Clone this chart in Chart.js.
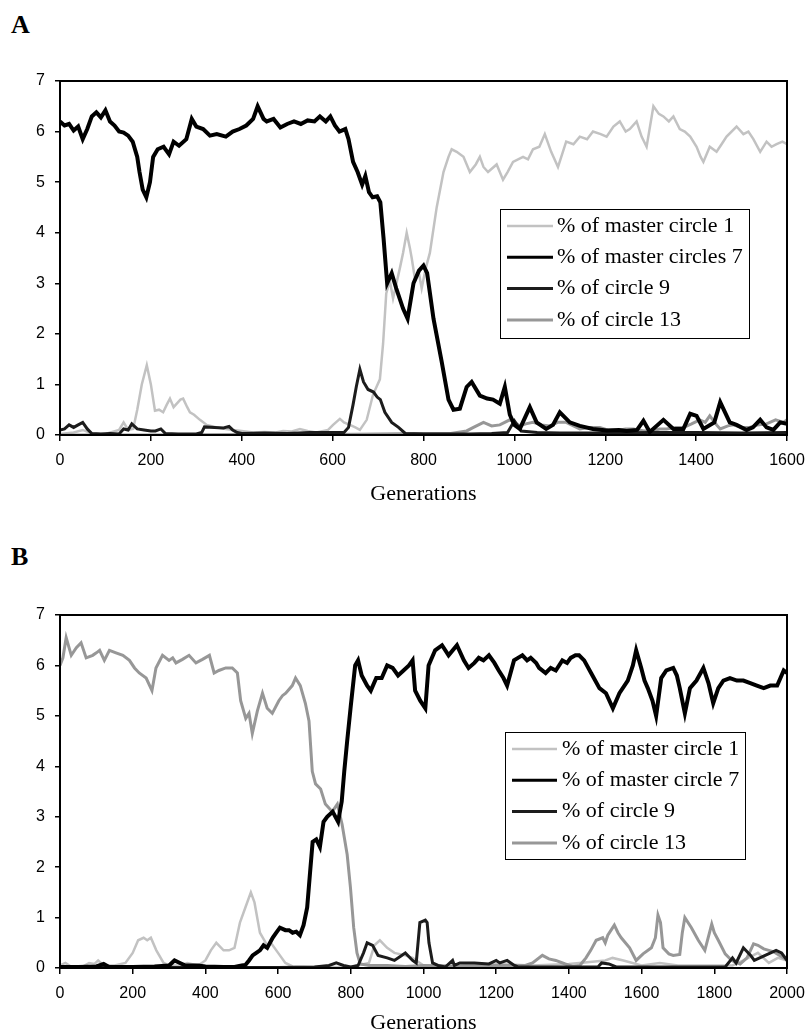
<!DOCTYPE html>
<html>
<head>
<meta charset="utf-8">
<script src="https://cdn.jsdelivr.net/npm/chart.js@4.4.0/dist/chart.umd.min.js"></script>
<style>
    html, body { margin: 0; padding: 0; background: #fff; }
    body { width: 809px; height: 1034px; overflow: hidden; position: relative; }
    canvas { position: absolute; left: 0; }
    .panel_label { position: absolute; left: 11px; font: bold 26px "Liberation Serif", "Times New Roman", serif; color: #000; line-height: 1; }
</style>
</head>
<body>
<div class="panel_label" style="top:12px">A</div>
<canvas id="chart_a" width="809" height="514" style="top:0"></canvas>
<div class="panel_label" style="top:544px">B</div>
<canvas id="chart_b" width="809" height="540" style="top:514px"></canvas>
<script>
// ---- panel A data (generations / percent) ----
const aMaster1Gen = [0,30,50,70,100,130,140,150,161,170,180,191,200,209,218,227,235,242,250,257,265,271,280,286,295,308,323,345,365,381,400,425,450,475,491,510,528,545,564,590,601,616,625,638,650,660,675,689,704,711,718,726,733,748,755,763,770,774,781,790,796,805,814,829,844,855,862,873,888,902,915,924,932,942,961,975,985,997,1019,1030,1041,1055,1067,1081,1096,1105,1114,1130,1144,1160,1173,1190,1203,1218,1232,1245,1254,1269,1280,1291,1306,1318,1328,1340,1350,1364,1375,1387,1401,1410,1416,1430,1445,1456,1467,1489,1504,1515,1526,1541,1555,1566,1577,1590,1600];
const aMaster1Val = [0.02,0.05,0.1,0.03,0.02,0.1,0.25,0.1,0.12,0.5,1.0,1.38,1.0,0.48,0.5,0.45,0.6,0.72,0.55,0.62,0.7,0.72,0.55,0.45,0.4,0.3,0.2,0.15,0.12,0.1,0.08,0.05,0.06,0.05,0.08,0.07,0.12,0.08,0.05,0.1,0.2,0.32,0.25,0.2,0.15,0.1,0.3,0.8,1.1,1.8,2.8,3.05,2.7,3.3,3.6,4.0,3.7,3.5,3.1,3.2,2.9,3.3,3.6,4.5,5.2,5.5,5.65,5.6,5.5,5.2,5.35,5.5,5.3,5.2,5.35,5.05,5.2,5.4,5.5,5.45,5.65,5.7,5.95,5.6,5.3,5.55,5.8,5.75,5.9,5.85,6.0,5.95,5.9,6.1,6.2,6.0,6.05,6.2,5.9,5.7,6.5,6.35,6.3,6.2,6.3,6.05,6.0,5.9,5.7,5.5,5.4,5.7,5.6,5.75,5.9,6.1,5.95,6.0,5.85,5.6,5.8,5.7,5.75,5.8,5.75];

const aMaster7Gen = [0,10,20,30,40,50,60,70,80,90,100,110,120,130,140,150,160,170,175,182,190,198,205,215,228,240,250,262,278,290,300,315,330,345,365,380,395,410,425,435,448,455,470,485,500,515,530,545,560,572,585,595,605,615,628,635,645,655,665,672,680,688,698,705,712,720,730,740,755,765,778,790,800,808,822,840,855,866,880,895,906,924,940,953,968,979,990,1000,1012,1034,1049,1070,1085,1100,1122,1144,1173,1203,1230,1247,1270,1284,1298,1328,1350,1372,1387,1401,1416,1440,1453,1474,1489,1511,1525,1541,1555,1570,1585,1600];
const aMaster7Val = [6.2,6.12,6.15,6.02,6.1,5.85,6.05,6.3,6.38,6.28,6.42,6.2,6.12,6.0,5.98,5.92,5.8,5.5,5.2,4.85,4.7,5.0,5.5,5.65,5.7,5.55,5.8,5.72,5.85,6.25,6.1,6.05,5.92,5.95,5.9,6.0,6.05,6.12,6.25,6.5,6.25,6.2,6.25,6.08,6.15,6.2,6.15,6.22,6.2,6.3,6.2,6.3,6.12,6.0,6.05,5.85,5.4,5.2,4.95,5.12,4.8,4.7,4.72,4.6,3.9,3.0,3.2,2.9,2.5,2.3,3.0,3.25,3.35,3.2,2.3,1.45,0.7,0.5,0.52,0.95,1.05,0.78,0.72,0.7,0.62,0.95,0.4,0.2,0.12,0.55,0.25,0.12,0.2,0.45,0.25,0.18,0.12,0.09,0.1,0.08,0.1,0.28,0.06,0.3,0.12,0.12,0.42,0.38,0.12,0.25,0.65,0.25,0.2,0.1,0.15,0.3,0.15,0.1,0.25,0.22];

const aCircle9Gen = [0,10,20,30,40,50,60,70,90,110,130,140,150,158,170,185,200,210,222,232,260,300,312,318,340,360,372,380,390,400,450,500,550,600,625,635,645,652,660,668,678,690,698,705,715,730,745,760,800,850,900,950,985,1000,1015,1050,1100,1200,1300,1400,1500,1600];
const aCircle9Val = [0.1,0.12,0.2,0.15,0.2,0.25,0.12,0.03,0.02,0.03,0.02,0.12,0.1,0.22,0.12,0.1,0.08,0.08,0.12,0.03,0.02,0.02,0.05,0.16,0.15,0.14,0.17,0.1,0.05,0.03,0.04,0.03,0.05,0.05,0.05,0.15,0.6,0.95,1.3,1.05,0.9,0.85,0.75,0.7,0.45,0.25,0.15,0.03,0.02,0.02,0.02,0.03,0.05,0.28,0.08,0.05,0.04,0.04,0.05,0.05,0.04,0.05];

const aCircle13Gen = [0,200,400,600,700,800,860,895,910,932,950,968,990,1012,1025,1041,1060,1078,1095,1114,1130,1144,1165,1188,1205,1225,1245,1262,1285,1306,1320,1335,1355,1372,1390,1408,1420,1430,1445,1453,1470,1482,1500,1518,1535,1555,1575,1592,1600];
const aCircle13Val = [0,0,0.01,0.01,0.02,0.03,0.03,0.08,0.15,0.25,0.18,0.2,0.3,0.18,0.22,0.25,0.2,0.18,0.25,0.25,0.18,0.12,0.15,0.15,0.1,0.09,0.12,0.12,0.08,0.09,0.12,0.12,0.15,0.15,0.22,0.3,0.25,0.38,0.2,0.12,0.18,0.2,0.15,0.15,0.2,0.22,0.3,0.25,0.3];

// ---- panel B data ----
const bMaster1Gen = [0,15,30,60,80,95,105,120,150,180,200,215,230,240,250,265,285,300,330,350,380,400,415,430,450,465,480,495,510,525,535,550,570,580,600,620,640,700,800,850,865,880,900,920,950,970,1000,1100,1200,1300,1400,1500,1520,1550,1600,1650,1700,1800,1850,1880,1920,1950,1975,2000];
const bMaster1Val = [0.05,0.1,0.03,0.02,0.1,0.08,0.15,0.05,0.05,0.1,0.3,0.55,0.6,0.55,0.6,0.35,0.1,0.05,0.05,0.1,0.05,0.15,0.35,0.5,0.35,0.35,0.4,0.9,1.2,1.5,1.3,0.7,0.45,0.5,0.3,0.1,0.03,0.02,0.02,0.1,0.45,0.55,0.4,0.3,0.25,0.2,0.05,0.05,0.08,0.05,0.08,0.15,0.2,0.15,0.05,0.1,0.05,0.05,0.05,0.15,0.3,0.1,0.2,0.15];

const bMaster7Gen = [0,50,100,120,135,200,260,300,315,330,345,380,400,450,480,500,510,520,530,540,550,560,570,585,595,605,620,630,640,650,660,670,680,688,695,705,715,725,735,750,765,775,782,790,800,812,820,830,845,855,870,885,900,915,930,945,960,970,977,991,1005,1014,1032,1051,1069,1092,1111,1124,1140,1152,1165,1180,1195,1207,1220,1230,1249,1260,1272,1285,1295,1310,1318,1336,1350,1364,1382,1395,1405,1418,1428,1442,1461,1484,1502,1521,1539,1562,1576,1585,1599,1608,1617,1630,1640,1654,1668,1687,1697,1705,1719,1733,1751,1770,1784,1797,1811,1825,1843,1862,1880,1899,1917,1936,1954,1973,1982,1991,2000];
const bMaster7Val = [0.02,0.02,0.03,0.08,0.02,0.02,0.03,0.05,0.15,0.1,0.05,0.05,0.03,0.02,0.02,0.05,0.06,0.15,0.25,0.3,0.35,0.45,0.4,0.6,0.7,0.8,0.75,0.75,0.7,0.72,0.65,0.85,1.2,1.9,2.5,2.55,2.4,2.9,3.0,3.1,2.9,3.3,3.9,4.5,5.2,6.0,6.1,5.8,5.6,5.5,5.75,5.75,6.0,5.95,5.8,5.9,6.0,6.1,5.5,5.3,5.15,6.0,6.3,6.4,6.2,6.4,6.1,5.95,6.05,6.15,6.1,6.2,6.05,5.9,5.75,5.6,6.1,6.15,6.2,6.1,6.15,6.05,5.95,5.85,5.95,5.9,6.1,6.05,6.15,6.2,6.2,6.1,5.85,5.55,5.45,5.15,5.45,5.7,6.0,6.3,5.95,5.7,5.55,5.3,5.0,5.75,5.9,5.95,5.8,5.55,5.05,5.55,5.7,5.95,5.65,5.25,5.55,5.7,5.75,5.7,5.7,5.65,5.6,5.55,5.6,5.6,5.75,5.9,5.85];

const bCircle9Gen = [0,200,400,600,700,740,760,780,800,820,835,845,860,875,900,920,940,950,970,980,990,1005,1010,1015,1025,1040,1060,1080,1085,1100,1140,1180,1200,1210,1230,1250,1260,1480,1490,1510,1530,1830,1850,1860,1880,1900,1910,1940,1970,1985,2000];
const bCircle9Val = [0.01,0.01,0.01,0.01,0.02,0.05,0.1,0.05,0.02,0.05,0.3,0.5,0.45,0.25,0.2,0.15,0.25,0.3,0.15,0.1,0.9,0.95,0.9,0.5,0.1,0.05,0.02,0.15,0.05,0.1,0.1,0.08,0.15,0.1,0.15,0.05,0.02,0.02,0.1,0.08,0.02,0.02,0.2,0.1,0.4,0.25,0.15,0.25,0.35,0.3,0.15];

const bCircle13Gen = [0,8,17,31,45,58,72,90,100,109,122,136,154,173,191,205,218,237,253,264,282,300,310,319,337,355,374,392,411,424,437,456,474,488,497,511,520,529,543,557,570,584,602,612,621,639,648,661,675,685,694,703,717,730,749,763,776,790,799,808,817,826,850,900,950,1000,1100,1200,1280,1300,1327,1345,1364,1390,1410,1430,1447,1460,1475,1493,1500,1507,1525,1535,1544,1567,1585,1604,1627,1638,1645,1652,1659,1675,1687,1705,1712,1719,1737,1756,1774,1793,1800,1811,1830,1848,1871,1890,1908,1920,1936,1950,1964,1980,1991,2000];
const bCircle13Val = [6.0,6.15,6.55,6.2,6.35,6.45,6.15,6.2,6.25,6.3,6.1,6.3,6.25,6.2,6.1,5.95,5.85,5.75,5.5,5.95,6.2,6.1,6.15,6.05,6.12,6.2,6.05,6.12,6.2,5.85,5.9,5.95,5.95,5.85,5.3,4.95,5.05,4.65,5.1,5.45,5.15,5.05,5.3,5.4,5.45,5.6,5.75,5.6,5.25,4.9,3.9,3.65,3.55,3.25,3.1,3.25,2.85,2.25,1.6,0.8,0.3,0.08,0.05,0.05,0.03,0.05,0.03,0.05,0.05,0.1,0.25,0.18,0.15,0.08,0.03,0.05,0.2,0.35,0.55,0.6,0.5,0.65,0.85,0.7,0.6,0.4,0.15,0.28,0.4,0.6,1.05,0.9,0.4,0.28,0.25,0.27,0.7,1.0,0.8,0.55,0.35,0.87,0.7,0.55,0.28,0.15,0.08,0.2,0.48,0.45,0.38,0.35,0.32,0.25,0.2,0.15];

const yTicks = [0, 1, 2, 3, 4, 5, 6, 7];

// line looks, in legend order
const lookMaster1 = { borderColor: "#c2c2c2", borderWidth: 2.5, order: 3 };
const lookMaster7 = { borderColor: "#000000", borderWidth: 4, order: 0 };
const lookCircle9 = { borderColor: "#1c1c1c", borderWidth: 3, order: 1 };
const lookCircle13 = { borderColor: "#979797", borderWidth: 3, order: 2 };

const tickFont = { family: "'Liberation Sans', Arial, sans-serif", size: 16 };
const serifFamily = "'Liberation Serif', 'Times New Roman', serif";

function toPoints(gens, vals) {
    return gens.map((g, i) => ({ x: g, y: vals[i] }));
}

function makeDataset(label, gens, vals, look) {
    return Object.assign({
        label: label,
        data: toPoints(gens, vals),
        pointRadius: 0,
        tension: 0,
        fill: false
    }, look);
}

// box around the whole plot (Chart.js only draws left and bottom)
const framePlugin = {
    id: "frame",
    afterDatasetsDraw(chart) {
        const a = chart.chartArea;
        const ctx = chart.ctx;
        ctx.save();
        ctx.strokeStyle = "#000";
        ctx.lineWidth = 2;
        ctx.strokeRect(a.left, a.top, a.right - a.left, a.bottom - a.top);
        ctx.restore();
    }
};

// legend drawn inside the plot, like the original figure
const boxLegendPlugin = {
    id: "boxLegend",
    afterDraw(chart, args, opts) {
        const ctx = chart.ctx;
        ctx.save();
        ctx.fillStyle = "#fff";
        ctx.fillRect(opts.x, opts.y, opts.w, opts.h);
        ctx.strokeStyle = "#000";
        ctx.lineWidth = 1;
        ctx.strokeRect(opts.x + 0.5, opts.y + 0.5, opts.w, opts.h);
        ctx.font = "22px " + serifFamily;
        ctx.textBaseline = "middle";
        chart.data.datasets.forEach((ds, i) => {
            const cy = opts.y + opts.firstRow + i * opts.rowGap;
            ctx.strokeStyle = ds.borderColor;
            ctx.lineWidth = Math.min(ds.borderWidth, 3);
            ctx.beginPath();
            ctx.moveTo(opts.x + opts.sampleX, cy);
            ctx.lineTo(opts.x + opts.sampleX + opts.sampleW, cy);
            ctx.stroke();
            ctx.fillStyle = "#000";
            ctx.fillText(ds.label, opts.x + opts.textX, cy);
        });
        ctx.restore();
    }
};

function drawPanel(canvasId, datasets, xMax, layout, legendBox) {
    return new Chart(document.getElementById(canvasId), {
        type: "line",
        data: { datasets: datasets },
        plugins: [framePlugin, boxLegendPlugin],
        options: {
            responsive: false,
            animation: false,
            devicePixelRatio: 1,
            layout: { padding: { top: layout.top, right: 22, left: 0, bottom: 0 } },
            plugins: {
                legend: { display: false },
                tooltip: { enabled: false },
                boxLegend: legendBox
            },
            scales: {
                x: {
                    type: "linear",
                    min: 0,
                    max: xMax,
                    ticks: {
                        stepSize: 200,
                        color: "#000",
                        font: tickFont,
                        padding: 10,
                        maxRotation: 0,
                        callback: v => String(v)
                    },
                    grid: { drawOnChartArea: false, drawTicks: true, tickLength: 6, color: "#000", lineWidth: 1.5 },
                    border: { color: "#000", width: 2 },
                    title: {
                        display: true,
                        text: "Generations",
                        color: "#000",
                        font: { family: serifFamily, size: 22 },
                        padding: { top: 0, bottom: layout.titleBottom }
                    },
                    afterFit(scale) {
                        scale.height = layout.xAxisHeight;
                        scale.paddingLeft = 0;
                        scale.paddingRight = 0;
                    }
                },
                y: {
                    min: 0,
                    max: 7,
                    afterBuildTicks(scale) {
                        scale.ticks = yTicks.map(v => ({ value: v }));
                    },
                    ticks: { color: "#000", font: tickFont, padding: 10, callback: v => String(v) },
                    grid: { drawOnChartArea: false, drawTicks: true, tickLength: 5, color: "#000", lineWidth: 1.5 },
                    border: { color: "#000", width: 2 },
                    afterFit(scale) {
                        scale.width = 60;
                        scale.paddingTop = 0;
                        scale.paddingBottom = 0;
                    }
                }
            }
        }
    });
}

function loadFigure() {
    drawPanel("chart_a", [
        makeDataset("% of master circle 1", aMaster1Gen, aMaster1Val, lookMaster1),
        makeDataset("% of master circles 7", aMaster7Gen, aMaster7Val, lookMaster7),
        makeDataset("% of circle 9", aCircle9Gen, aCircle9Val, lookCircle9),
        makeDataset("% of circle 13", aCircle13Gen, aCircle13Val, lookCircle13)
    ], 1600,
    { top: 81, xAxisHeight: 79, titleBottom: 7 },
    { x: 500, y: 209, w: 249, h: 129, firstRow: 17, rowGap: 31.3, sampleX: 7, sampleW: 46, textX: 57 });

    drawPanel("chart_b", [
        makeDataset("% of master circle 1", bMaster1Gen, bMaster1Val, lookMaster1),
        makeDataset("% of master circle 7", bMaster7Gen, bMaster7Val, lookMaster7),
        makeDataset("% of circle 9", bCircle9Gen, bCircle9Val, lookCircle9),
        makeDataset("% of circle 13", bCircle13Gen, bCircle13Val, lookCircle13)
    ], 2000,
    { top: 101, xAxisHeight: 86, titleBottom: 18 },
    { x: 505, y: 218, w: 240, h: 127, firstRow: 17, rowGap: 31.3, sampleX: 7, sampleW: 45, textX: 57 });
}

document.addEventListener("DOMContentLoaded", loadFigure);
</script>
</body>
</html>
